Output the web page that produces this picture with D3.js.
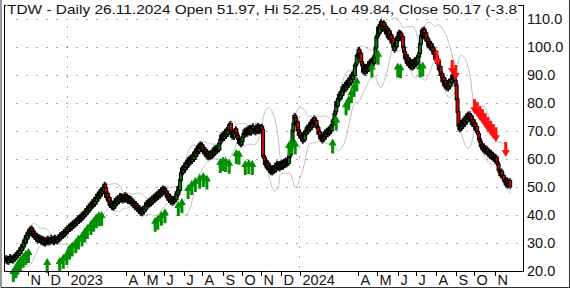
<!DOCTYPE html>
<html>
<head>
<meta charset="utf-8">
<script src="https://cdn.jsdelivr.net/npm/d3@7"></script>
<style>
  body { margin: 0; background: #fff; }
  svg { display: block; font-family: "Liberation Sans", Arial, sans-serif; }
</style>
</head>
<body>
<div class="chart"></div>
<script>
//Daily closes, one per weekday from 26.09.2022 to 26.11.2024.
var closes = [
  24.6, 23.5, 24.4, 23.2, 24.1, 25.0, 23.9, 24.5, 23.7, 25.1,
  24.4, 25.6, 24.9, 26.3, 25.7, 27.0, 26.4, 28.2, 27.5, 29.3,
  28.8, 30.9, 30.2, 32.5, 31.6, 33.7, 32.9, 34.8, 33.5, 35.2,
  33.0, 34.1, 32.4, 33.2, 31.5, 32.6, 30.9, 32.1, 31.0, 31.8,
  30.4, 31.5, 30.1, 31.2, 29.8, 30.9, 30.3, 31.6, 30.2, 31.1,
  30.5, 31.8, 30.7, 31.4, 30.3, 31.9, 30.8, 31.5, 30.6, 32.0,
  31.4, 32.8, 31.9, 33.2, 32.5, 33.9, 33.0, 34.6, 33.8, 35.2,
  34.3, 35.9, 35.0, 36.3, 35.4, 37.0, 36.1, 37.5, 36.6, 37.9,
  37.1, 38.8, 37.9, 39.2, 38.3, 39.9, 38.9, 40.5, 39.6, 41.1,
  40.3, 42.1, 41.2, 43.0, 41.9, 43.6, 42.8, 44.5, 43.4, 45.2,
  44.0, 46.1, 45.0, 47.2, 46.1, 48.0, 46.9, 48.9, 47.8, 49.5,
  48.6, 50.8, 49.6, 46.5, 47.6, 45.2, 46.1, 43.6, 44.5, 42.8,
  43.9, 42.6, 44.8, 43.5, 45.6, 44.3, 46.0, 44.9, 46.8, 45.6,
  46.7, 45.2, 46.5, 45.4, 47.1, 45.5, 46.6, 45.0, 46.1, 44.9,
  45.8, 44.2, 45.1, 43.5, 44.4, 42.8, 43.9, 42.2, 43.1, 41.6,
  42.4, 40.8, 41.9, 40.6, 42.1, 41.3, 43.0, 42.2, 44.3, 43.2,
  44.8, 43.7, 45.3, 44.1, 45.9, 44.8, 46.5, 45.4, 47.0, 45.9,
  47.6, 46.4, 48.2, 47.0, 48.8, 47.6, 49.5, 48.1, 49.3, 47.9,
  48.4, 46.5, 47.3, 45.4, 46.5, 44.7, 45.8, 44.3, 45.6, 44.9,
  46.4, 45.6, 48.1, 47.4, 49.9, 49.0, 52.6, 54.9, 56.6, 55.3,
  57.4, 56.3, 58.5, 57.2, 59.4, 58.1, 60.2, 58.8, 60.5, 59.3,
  61.3, 60.0, 62.4, 61.1, 63.5, 62.2, 64.4, 62.8, 65.2, 64.0,
  64.9, 62.9, 63.8, 62.0, 63.1, 61.2, 62.4, 60.6, 61.9, 60.8,
  62.1, 61.0, 62.9, 61.6, 63.7, 62.3, 64.0, 62.9, 64.6, 63.4,
  65.6, 66.9, 68.4, 67.0, 68.8, 67.5, 69.7, 68.2, 70.4, 69.0,
  70.6, 72.1, 72.5, 69.6, 68.0, 69.5, 67.9, 69.8, 70.6, 69.1,
  68.2, 67.1, 65.8, 66.7, 65.2, 66.4, 67.9, 68.9, 70.1, 68.8,
  70.2, 69.0, 70.9, 69.5, 71.1, 69.4, 70.8, 71.6, 69.9, 70.7,
  69.5, 71.4, 70.1, 71.8, 69.9, 71.3, 70.2, 71.5, 70.4, 61.0,
  60.4, 58.2, 59.1, 57.0, 58.4, 56.5, 57.3, 55.3, 56.6, 55.2,
  56.8, 55.7, 57.4, 56.2, 58.3, 57.0, 58.1, 56.6, 58.4, 57.1,
  58.7, 57.2, 59.0, 57.8, 59.5, 58.1, 59.3, 58.6, 60.9, 61.6,
  64.1, 66.5, 70.2, 72.6, 75.4, 74.6, 72.4, 73.1, 70.3, 68.6,
  69.3, 67.6, 68.4, 66.5, 68.1, 67.0, 69.8, 69.1, 71.2, 70.0,
  71.8, 70.6, 72.9, 71.4, 73.8, 72.3, 74.5, 72.9, 73.6, 71.5,
  71.1, 69.0, 69.5, 67.4, 68.1, 66.6, 68.2, 67.3, 69.5, 68.2,
  70.1, 68.9, 70.6, 69.3, 71.0, 70.2, 72.1, 73.4, 74.0, 76.1,
  77.0, 80.3, 79.2, 81.5, 82.9, 81.6, 83.9, 82.8, 85.6, 84.3,
  86.4, 84.9, 87.2, 85.8, 87.9, 86.6, 88.8, 87.3, 89.9, 88.6,
  90.9, 90.0, 93.4, 94.1, 96.8, 97.3, 99.0, 96.9, 97.6, 94.6,
  93.5, 91.2, 93.0, 90.8, 92.7, 91.5, 93.6, 92.1, 94.6, 93.0,
  95.1, 93.6, 95.8, 94.4, 96.9, 99.8, 103.5, 104.1, 107.0, 105.1,
  107.8, 108.9, 106.4, 107.6, 108.5, 105.9, 107.2, 104.8, 106.4, 103.5,
  105.6, 103.0, 104.2, 101.6, 102.8, 100.1, 99.0, 101.2, 100.3, 103.4,
  102.6, 105.1, 103.3, 104.8, 102.9, 103.5, 99.8, 98.2, 96.0, 97.1,
  94.4, 96.0, 93.5, 95.1, 92.9, 94.6, 92.6, 94.8, 93.2, 95.3,
  93.8, 96.1, 94.5, 96.6, 97.9, 101.2, 104.0, 105.9, 103.8, 106.2,
  104.0, 104.9, 102.3, 103.0, 100.5, 101.8, 99.9, 101.0, 99.0, 99.8,
  97.6, 98.4, 95.7, 96.6, 94.3, 95.0, 92.1, 92.8, 90.0, 90.4,
  87.7, 88.9, 86.3, 87.9, 85.5, 86.8, 85.2, 87.6, 86.0, 88.3,
  87.4, 89.8, 88.6, 90.4, 87.9, 86.2, 81.3, 76.8, 71.9, 70.6,
  72.4, 71.1, 73.5, 71.9, 74.0, 72.6, 75.1, 73.5, 75.8, 74.4,
  76.0, 74.1, 75.2, 72.6, 73.9, 71.8, 72.7, 70.5, 71.4, 69.6,
  68.9, 67.0, 66.2, 64.6, 65.1, 63.4, 64.5, 62.8, 63.9, 62.5,
  63.4, 61.7, 62.6, 61.0, 62.2, 60.6, 61.5, 60.0, 60.9, 59.4,
  60.5, 58.8, 58.0, 56.1, 55.4, 54.2, 55.5, 53.6, 53.9, 52.3,
  52.2, 50.9, 52.4, 50.6, 51.4, 52.15, 50.17
];

//Buy signals (green up arrows): day index and price at the arrow tip.
var buyDays = [9, 12, 14, 17, 20, 23, 26, 47, 61, 65, 69, 72, 75, 79, 82, 86, 89, 92, 96, 99, 102, 105, 108,
  168, 171, 175, 179, 194, 198, 205, 209, 213, 218, 222, 226, 241, 244, 247, 251, 259, 262, 269, 273, 277,
  318, 321, 325, 367, 371, 382, 385, 388, 391, 394, 411, 418, 440, 443, 465, 468];
var buyTips = [21.4, 22.8, 24.0, 25.4, 26.5, 27.5, 28.2, 24.6, 25.0, 26.2, 27.5, 29.5, 30.5, 31.7, 33.0, 34.1, 35.5, 36.8, 38.2, 39.4, 40.6, 41.3, 41.4,
  39.4, 40.1, 41.5, 42.4, 45.0, 46.1, 51.1, 52.5, 53.6, 54.7, 55.4, 54.5, 60.4, 61.0, 60.7, 60.1, 63.6, 63.3, 59.6, 60.0, 59.6,
  66.4, 67.3, 67.0, 67.3, 75.5, 81.0, 82.8, 85.3, 87.5, 89.5, 94.5, 99.0, 94.5, 94.2, 94.5, 94.8];

//Sell signals (red down arrows): day index and price at the arrow tip.
var sellDays = [484, 501, 505, 526, 529, 532, 535, 538, 541, 544, 547, 550, 561];
var sellTips = [93.4, 90.0, 88.2, 76.0, 75.0, 73.6, 72.4, 71.0, 69.6, 68.3, 67.1, 66.0, 60.7];

//Price levels and month labels on the axes.
var yTicks = [20, 30, 40, 50, 60, 70, 80, 90, 100, 110];
var monthTicks = [
  ["2022-11-01", "N"], ["2022-12-01", "D"], ["2023-01-02", "2023"],
  ["2023-04-03", "A"], ["2023-05-01", "M"], ["2023-06-01", "J"], ["2023-07-03", "J"],
  ["2023-08-01", "A"], ["2023-09-01", "S"], ["2023-10-02", "O"], ["2023-11-01", "N"],
  ["2023-12-01", "D"], ["2024-01-01", "2024"], ["2024-04-01", "A"], ["2024-05-01", "M"],
  ["2024-06-03", "J"], ["2024-07-01", "J"], ["2024-08-01", "A"], ["2024-09-02", "S"],
  ["2024-10-01", "O"], ["2024-11-01", "N"]
];
var yearLines = ["2023-01-02", "2024-01-01"];
var title = "TDW - Daily 26.11.2024 Open 51.97, Hi 52.25, Lo 49.84, Close 50.17 (-3.8";

//Define the SVG area dimensions.
var svgWidth = 570;
var svgHeight = 289;

//The plot frame.
var frame = { left: 4.5, right: 523.5, top: 5.5, bottom: 271.5 };

//Weekdays that the closes belong to.
var parse = d3.utcParse("%Y-%m-%d");
var days = d3.utcDays(parse("2022-09-26"), d3.utcDay.offset(parse("2024-11-26"), 1))
  .filter(function(d) { return d.getUTCDay() != 0 && d.getUTCDay() != 6; });
var dayIndex = function(s) { return d3.bisectLeft(days, parse(s)); };

var svg = d3.select(".chart")
  .append("svg")
  .attr("width", svgWidth)
  .attr("height", svgHeight);

//Scales: one step per trading day, and price.
var xScale = d3.scaleLinear()
  .domain([0, days.length - 1])
  .range([5.3, 5.3 + (days.length - 1) * 0.892]);
var yScale = d3.scaleLinear()
  .domain([20, 110])
  .range([271, 19]);

svg.append("clipPath").attr("id", "plot")
  .append("rect")
  .attr("x", frame.left).attr("y", frame.top)
  .attr("width", frame.right - frame.left).attr("height", frame.bottom - frame.top);

//Outer picture border.
svg.append("path")
  .attr("d", "M1,0 V287.5 H569.5 V0")
  .attr("fill", "none")
  .attr("stroke", "#333");

//Dotted grid.
var grid = svg.append("g").attr("clip-path", "url(#plot)");
grid.selectAll(".hgrid")
  .data(yTicks.slice(1))
  .enter().append("line")
  .attr("x1", frame.left + 12).attr("x2", frame.right)
  .attr("y1", function(d) { return Math.round(yScale(d)) + 0.5; })
  .attr("y2", function(d) { return Math.round(yScale(d)) + 0.5; })
  .attr("stroke", "#555")
  .attr("stroke-dasharray", "1,9");
grid.selectAll(".vgrid")
  .data(yearLines)
  .enter().append("line")
  .attr("x1", function(d) { return Math.round(xScale(dayIndex(d))) - 0.5; })
  .attr("x2", function(d) { return Math.round(xScale(dayIndex(d))) - 0.5; })
  .attr("y1", frame.top + 21).attr("y2", frame.bottom)
  .attr("stroke", "#555")
  .attr("stroke-dasharray", "1,9");

//Bollinger bands (20 days, 2 deviations) from the closes.
var upper = [], lower = [];
closes.forEach(function(c, i) {
  if (i < 4) return;
  var w = closes.slice(Math.max(0, i - 19), i + 1);
  var m = d3.mean(w), s = d3.deviation(w);
  upper.push([i, m + 2 * s]);
  lower.push([i, m - 2 * s]);
});
var band = d3.line()
  .x(function(d) { return xScale(d[0]); })
  .y(function(d) { return yScale(d[1]); })
  .curve(d3.curveMonotoneX);
var plot = svg.append("g").attr("clip-path", "url(#plot)");
[upper, lower].forEach(function(b) {
  plot.append("path")
    .attr("d", band(b))
    .attr("fill", "none")
    .attr("stroke", "#bdbdbd")
    .attr("stroke-width", 1);
});

//Candles: open is the previous close.
var candles = closes.map(function(c, i) {
  return { i: i, open: i > 0 ? closes[i - 1] : c, close: c };
});
var candle = plot.selectAll(".candle")
  .data(candles)
  .enter().append("g");
candle.append("line")
  .attr("x1", function(d) { return xScale(d.i); })
  .attr("x2", function(d) { return xScale(d.i); })
  .attr("y1", function(d) { return yScale(Math.max(d.open, d.close)) - 3; })
  .attr("y2", function(d) { return yScale(Math.min(d.open, d.close)) + 3; })
  .attr("stroke", "#000");
candle.append("rect")
  .attr("x", function(d) { return xScale(d.i) - 1.5; })
  .attr("width", 3)
  .attr("y", function(d) { return yScale(Math.max(d.open, d.close)) - 0.5; })
  .attr("height", function(d) { return Math.max(1, Math.abs(yScale(d.open) - yScale(d.close))) + 1; })
  .attr("fill", function(d) { return d.close < d.open ? "#e00000" : "#008000"; })
  .attr("stroke", "#000")
  .attr("stroke-width", 1);

//Signal arrows.
var upArrow = "M0,0 L4,7 L1.5,7 L1.5,15 L-1.5,15 L-1.5,7 L-4,7 Z";
var downArrow = "M0,0 L4,-7 L1.5,-7 L1.5,-15 L-1.5,-15 L-1.5,-7 L-4,-7 Z";
svg.selectAll(".buy")
  .data(buyDays)
  .enter().append("path")
  .attr("d", upArrow)
  .attr("transform", function(d, k) { return "translate(" + xScale(d) + "," + yScale(buyTips[k]) + ")"; })
  .attr("fill", "#009000");
svg.selectAll(".sell")
  .data(sellDays)
  .enter().append("path")
  .attr("d", downArrow)
  .attr("transform", function(d, k) { return "translate(" + xScale(d) + "," + yScale(sellTips[k]) + ")"; })
  .attr("fill", "#ff1010");

//Plot frame, then the title box over its top edge.
svg.append("rect")
  .attr("x", frame.left).attr("y", frame.top)
  .attr("width", frame.right - frame.left).attr("height", frame.bottom - frame.top)
  .attr("fill", "none")
  .attr("stroke", "#000");
svg.append("rect")
  .attr("x", 6).attr("y", 0)
  .attr("width", 512).attr("height", 16)
  .attr("fill", "#fff");
svg.append("text")
  .attr("x", 7).attr("y", 14)
  .attr("font-size", 13)
  .attr("fill", "#111")
  .attr("textLength", 510)
  .attr("lengthAdjust", "spacingAndGlyphs")
  .text(title);

//Right price axis labels.
svg.selectAll(".ylab")
  .data(yTicks)
  .enter().append("text")
  .attr("x", 527)
  .attr("y", function(d) { return yScale(d) + 5; })
  .attr("font-size", 14.5)
  .attr("fill", "#111")
  .text(function(d) { return d3.format(".1f")(d); });

//Bottom month ticks and labels.
var xt = svg.selectAll(".xt")
  .data(monthTicks)
  .enter().append("g")
  .attr("transform", function(d) { return "translate(" + (Math.round(xScale(dayIndex(d[0]))) + 0.5) + ",0)"; });
xt.append("line")
  .attr("y1", frame.bottom).attr("y2", 276)
  .attr("stroke", "#000");
xt.append("text")
  .attr("x", 2).attr("y", 285)
  .attr("font-size", 14.5)
  .attr("fill", "#111")
  .text(function(d) { return d[1]; });
</script>
</body>
</html>
